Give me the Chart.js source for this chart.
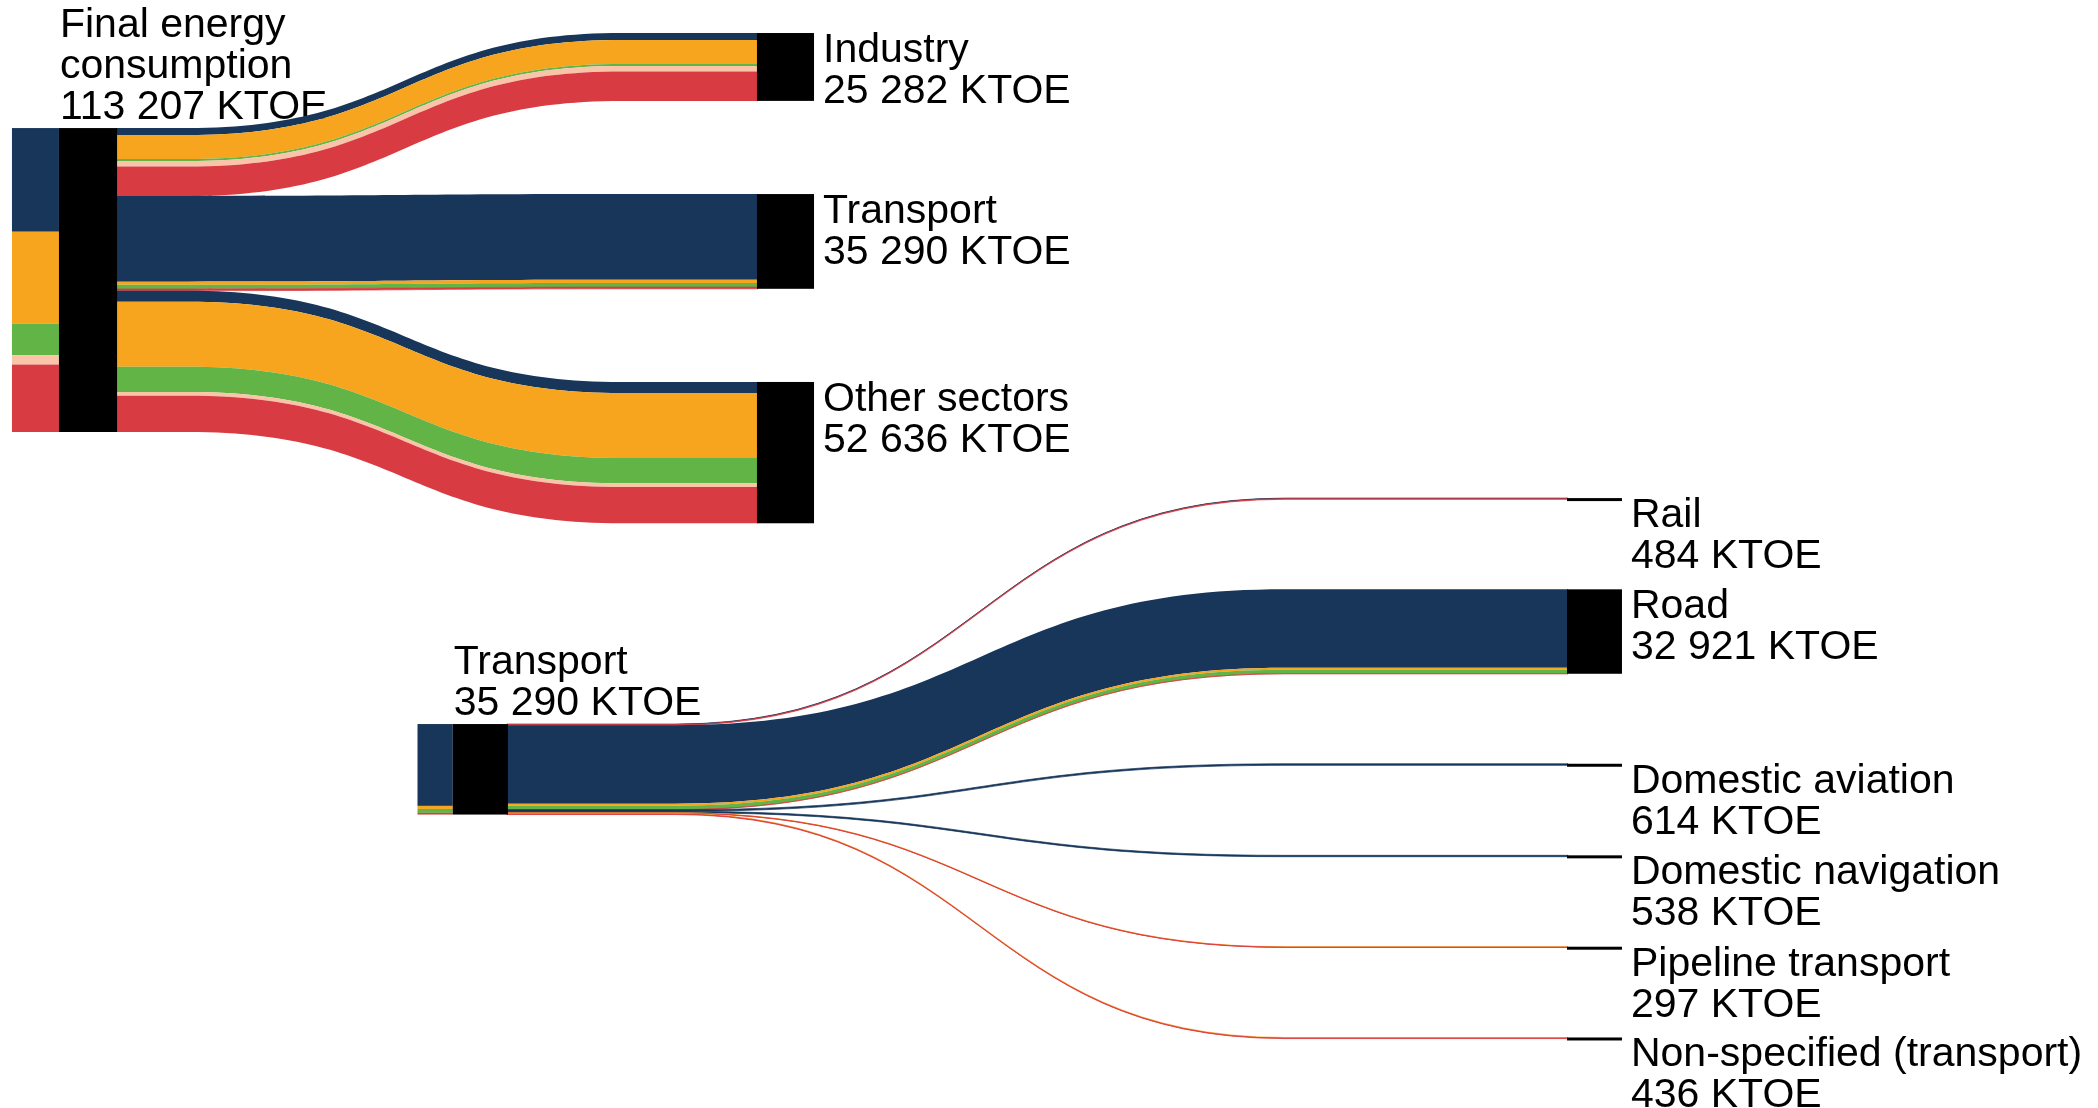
<!DOCTYPE html>
<html>
<head>
<meta charset="utf-8">
<script src="https://cdn.jsdelivr.net/npm/chart.js@4"></script>
<style>
  body { margin: 0; background: #fff; }
  #wrap { width: 2098px; height: 1108px; }
</style>
</head>
<body>
<div id="wrap"><canvas id="myChart"></canvas></div>
<script>
// ---- data (KTOE) ----
const fuels = ['Oil products', 'Natural gas', 'Renewables and biofuels', 'Heat', 'Electricity'];
const sectors = ['Industry', 'Transport', 'Other sectors'];
const sectorTotals = [25282, 35290, 52636];
const finalTotal = 113207;

// fuel split of each sector, same order as `fuels`
const industryByFuel = [2600, 8900, 750, 2100, 10932];
const transportByFuel = [31916, 1186, 1540, 0, 648];
const otherByFuel = [4100, 24200, 9400, 1400, 13536];

const transportModes = ['Rail', 'Road', 'Domestic aviation', 'Domestic navigation', 'Pipeline transport', 'Non-specified (transport)'];
const modeTotals = [484, 32921, 614, 538, 297, 436];
const railByFuel = [214, 0, 0, 0, 270];
const roadByFuel = [30550, 800, 1540, 0, 31];
const aviationByFuel = [614, 0, 0, 0, 0];
const navigationByFuel = [538, 0, 0, 0, 0];
const pipelineByFuel = [0, 150, 0, 0, 147];
const otherTransportByFuel = [0, 236, 0, 0, 200];

// ---- styles ----
const fuelColors = ['#17365a', '#f7a51e', '#62b446', '#f9c4a8', '#d83b41'];
const nodeColor = '#000';
const FONT = '41px "Liberation Sans", Arial, sans-serif';
const LINE_H = 41;

const fmt = n => String(n).replace(/\B(?=(\d{3})+(?!\d))/g, ' ');

// layout of the two diagrams (x in % of width, y in KTOE on their own axis)
const topSankey = {
  axis: 'y',
  title: ['Final energy', 'consumption', fmt(finalTotal) + ' KTOE'],
  names: sectors,
  totals: sectorTotals,
  flows: [industryByFuel, transportByFuel, otherByFuel],
  col: { stub: 0.57, src: 2.81, srcEnd: 5.58, bendA: 8.96, bendB: 29.65, tgt: 36.08, tgtEnd: 38.8 },
  firstTop: -35400,
  gap: 34700
};
const bottomSankey = {
  axis: 'y2',
  title: [sectors[1], fmt(sectorTotals[1]) + ' KTOE'],
  names: transportModes,
  totals: modeTotals,
  flows: [railByFuel, roadByFuel, aviationByFuel, navigationByFuel, pipelineByFuel, otherTransportByFuel],
  col: { stub: 19.9, src: 21.58, srcEnd: 24.21, bendA: 32.17, bendB: 61.25, tgt: 74.69, tgtEnd: 77.31 },
  firstTop: -88100,
  gap: 35090
};

function band(ctx, x0, xa, xb, x1, s0, s1, t0, t1, color) {
  const xm = (xa + xb) / 2;
  ctx.beginPath();
  ctx.moveTo(x0, s0);
  ctx.lineTo(xa, s0);
  ctx.bezierCurveTo(xm, s0, xm, t0, xb, t0);
  ctx.lineTo(x1, t0);
  ctx.lineTo(x1, t1);
  ctx.lineTo(xb, t1);
  ctx.bezierCurveTo(xm, t1, xm, s1, xa, s1);
  ctx.lineTo(x0, s1);
  ctx.closePath();
  ctx.fillStyle = color;
  ctx.fill();
  // very thin flows would fade out on the slope, give them a hairline
  if (s1 - s0 < 2) {
    ctx.strokeStyle = color;
    ctx.lineWidth = 0.7;
    ctx.stroke();
  }
}

function drawSankey(chart, s) {
  const { ctx } = chart;
  const xs = chart.scales.x, ys = chart.scales[s.axis];
  const px = v => xs.getPixelForValue(v);
  const py = v => ys.getPixelForValue(v);
  const c = s.col;

  const fuelTotals = fuels.map((_, f) => s.flows.reduce((a, row) => a + row[f], 0));
  const total = fuelTotals.reduce((a, b) => a + b, 0);

  ctx.save();
  ctx.font = FONT;
  ctx.fillStyle = '#000';
  ctx.textBaseline = 'alphabetic';
  // source title above the node
  s.title.forEach((line, i) => {
    const base = py(0) - 9 - (s.title.length - 1 - i) * LINE_H;
    ctx.fillText(line, px(c.src) + 1, base);
  });

  // incoming stub, stacked by fuel
  let acc = 0;
  fuelTotals.forEach((v, f) => {
    if (!v) return;
    ctx.fillStyle = fuelColors[f];
    ctx.fillRect(px(c.stub), py(acc), px(c.src) - px(c.stub), py(acc + v) - py(acc));
    acc += v;
  });

  // links, one band per fuel per target
  let srcAcc = 0;
  let top = s.firstTop;
  const tops = [];
  s.flows.forEach(row => {
    tops.push(top);
    let tAcc = top;
    row.forEach((v, f) => {
      if (!v) return;
      band(ctx, px(c.srcEnd) - 1, px(c.bendA), px(c.bendB), px(c.tgt) + 1,
        py(srcAcc), py(srcAcc + v), py(tAcc), py(tAcc + v), fuelColors[f]);
      srcAcc += v;
      tAcc += v;
    });
    top = tAcc + s.gap;
  });

  // nodes
  ctx.fillStyle = nodeColor;
  ctx.fillRect(px(c.src), py(0), px(c.srcEnd) - px(c.src), py(total) - py(0));
  s.flows.forEach((row, i) => {
    const v = row.reduce((a, b) => a + b, 0);
    const y0 = py(tops[i]);
    const h = Math.max(3, py(tops[i] + v) - y0);
    ctx.fillRect(px(c.tgt), y0, px(c.tgtEnd) - px(c.tgt), h);
  });

  // target labels
  ctx.fillStyle = '#000';
  s.names.forEach((name, i) => {
    const x = px(c.tgtEnd) + 9;
    const base = py(tops[i]) + 29;
    ctx.fillText(name, x, base);
    ctx.fillText(fmt(s.totals[i]) + ' KTOE', x, base + LINE_H);
  });
  ctx.restore();
}

const sankeyPlugin = {
  id: 'sankey',
  afterDraw(chart) {
    drawSankey(chart, topSankey);
    drawSankey(chart, bottomSankey);
  }
};

const ctx = document.getElementById('myChart');
new Chart(ctx, {
  type: 'scatter',
  data: { datasets: [{ data: [] }] },
  options: {
    responsive: true,
    maintainAspectRatio: false,
    animation: false,
    events: [],
    layout: { padding: 0 },
    plugins: {
      legend: { display: false },
      tooltip: { enabled: false }
    },
    scales: {
      x: { type: 'linear', min: 0, max: 100, display: false },
      y: { type: 'linear', min: -47700, max: 365000, reverse: true, display: false },
      y2: { type: 'linear', min: -282300, max: 149700, reverse: true, display: false }
    }
  },
  plugins: [sankeyPlugin]
});
</script>
</body>
</html>
